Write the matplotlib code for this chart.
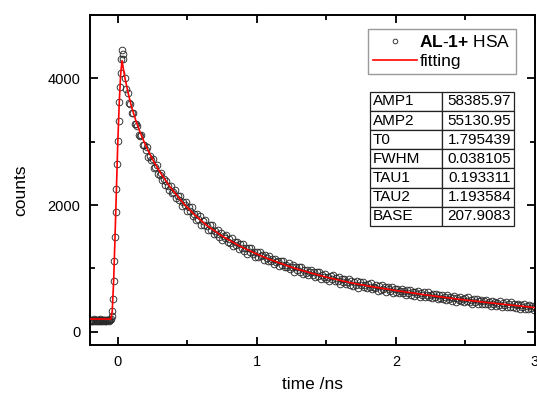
import numpy as np
import matplotlib
matplotlib.use("Agg")
import matplotlib.pyplot as plt
from matplotlib.ticker import MultipleLocator

plt.rcParams['font.family'] = ['Liberation Sans', 'DejaVu Sans']
plt.rcParams['mathtext.fontset'] = 'custom'
plt.rcParams['mathtext.rm'] = 'Liberation Sans'
plt.rcParams['mathtext.bf'] = 'Liberation Sans:bold'

t_base = np.round(np.arange(-0.200, -0.0599, 0.005), 3)
c_base = [185, 172, 190, 168, 181, 176, 193, 170, 184, 178, 166, 188, 175, 181, 172,
          195, 163, 179, 187, 169, 182, 174, 191, 167, 180, 177, 186, 171, 183]

t_rise = [-0.055, -0.050, -0.045, -0.040, -0.035, -0.030, -0.025, -0.020, -0.015,
          -0.010, -0.005, 0.000, 0.005, 0.010, 0.015, 0.020, 0.025, 0.030, 0.035]
c_rise = [180, 195, 240, 330, 520, 800, 1120, 1500, 1890,
          2260, 2640, 3010, 3330, 3620, 3860, 4080, 4300, 4440, 4390]

t_tail = np.round(np.arange(0.04, 3.0001, 0.01), 2)
c_tail = [
    # 0.04 - 0.40
    4300, 4000, 3826, 3772, 3606, 3598, 3460, 3460, 3280, 3280,
    3250, 3110, 3090, 3107, 2955, 2952, 2870, 2916, 2752, 2778,
    2704, 2720, 2592, 2604, 2636, 2488, 2480, 2507, 2395, 2412,
    2310, 2387, 2295, 2243, 2304, 2197, 2200,
    # 0.41 - 1.00
    2233, 2106, 2149, 2082, 2135, 1987, 2052, 1998, 2045, 1913,
    1970, 1898, 1965, 1833, 1862, 1771, 1851, 1772, 1823, 1684,
    1754, 1685, 1756, 1667, 1611, 1686, 1601, 1686, 1541, 1596,
    1550, 1605, 1500, 1555, 1441, 1517, 1474, 1532, 1409, 1457,
    1404, 1472, 1349, 1417, 1364, 1412, 1310, 1378, 1327, 1387,
    1277, 1317, 1226, 1326, 1256, 1316, 1225, 1265, 1185, 1255,
    # 1.01 - 2.00
    1186, 1252, 1188, 1209, 1125, 1206, 1162, 1113, 1194, 1115,
    1142, 1074, 1151, 1098, 1120, 1037, 1109, 1056, 1118, 1020,
    1058, 1016, 1078, 986, 1024, 1046, 949, 1017, 980, 1022,
    945, 1019, 918, 972, 931, 975, 889, 938, 972, 896,
    935, 869, 938, 886, 940, 829, 903, 857, 906, 830,
    865, 805, 875, 835, 890, 795, 840, 800, 860, 760,
    825, 790, 830, 750, 790, 830, 745, 796, 722, 778,
    744, 795, 696, 777, 738, 783, 709, 740, 686, 757,
    698, 764, 675, 711, 693, 739, 646, 717, 659, 730,
    667, 698, 630, 706, 668, 639, 711, 617, 669, 630,
    # 2.01 - 3.00
    667, 609, 645, 677, 609, 641, 582, 654, 611, 663,
    584, 626, 568, 630, 596, 638, 550, 612, 573, 620,
    547, 584, 621, 548, 585, 527, 595, 552, 599, 511,
    573, 530, 582, 514, 551, 498, 580, 517, 555, 492,
    529, 556, 473, 535, 502, 550, 477, 520, 462, 530,
    492, 540, 467, 500, 442, 510, 467, 520, 442, 480,
    502, 430, 487, 445, 507, 430, 467, 410, 487, 440,
    472, 410, 458, 416, 478, 391, 453, 426, 464, 397,
    434, 382, 464, 397, 440, 378, 415, 438, 360, 423,
    386, 439, 366, 404, 351, 424, 367, 410, 347, 395,
]

# --- fitted curve ---
t_fit = [-0.20, -0.05, -0.04, -0.03, -0.02, -0.01, 0.00, 0.01, 0.02, 0.03,
         0.05, 0.075, 0.10, 0.13, 0.16, 0.20, 0.25, 0.30, 0.374, 0.47,
         0.55, 0.638, 0.75, 0.878, 1.0, 1.1, 1.2, 1.31, 1.5, 1.67,
         1.83, 2.0, 2.2, 2.44, 2.7, 3.0]
c_fit = [200, 200, 330, 800, 1500, 2250, 3000, 3600, 4050, 4280,
         4020, 3760, 3540, 3330, 3150, 2940, 2720, 2530, 2290, 2030,
         1850, 1680, 1510, 1350, 1225, 1135, 1055, 975, 860, 775,
         710, 650, 585, 515, 450, 380]

# --- fit parameters ---
par_names = ['AMP1', 'AMP2', 'T0', 'FWHM', 'TAU1', 'TAU2', 'BASE']
par_values = ['58385.97', '55130.95', '1.795439', '0.038105', '0.193311', '1.193584', '207.9083']

t_data = list(t_base) + list(t_rise) + list(t_tail)
c_data = c_base + c_rise + c_tail

fig = plt.figure(figsize=(5.37, 3.96), dpi=100)
ax = fig.add_axes([0.1676, 0.1288, 0.8287, 0.8333])

ax.plot(t_data, c_data, linestyle='none', marker='o', markersize=4.8,
        markerfacecolor='none', markeredgecolor='#2a2a2a', markeredgewidth=0.65,
        label=r'$\mathbf{AL}$-$\mathbf{1{+}}$ HSA', zorder=2)
ax.plot(t_fit, c_fit, color='#ff0000', linewidth=1.2, label='fitting', zorder=3)

ax.set_xlim(-0.2, 3.0)
ax.set_ylim(-210, 5000)
ax.xaxis.set_major_locator(MultipleLocator(1))
ax.xaxis.set_minor_locator(MultipleLocator(0.5))
ax.yaxis.set_major_locator(MultipleLocator(2000))
ax.yaxis.set_minor_locator(MultipleLocator(1000))
ax.tick_params(which='both', direction='in', top=True, right=True, width=1.3,
               labelsize=10.5, pad=7)
ax.tick_params(which='major', length=6)
ax.tick_params(which='minor', length=3.8)
for s in ax.spines.values():
    s.set_linewidth(1.4)

ax.set_xlabel('time /ns', fontsize=12.5, labelpad=6)
ax.set_ylabel('counts', fontsize=12.5)
ax.yaxis.set_label_coords(-0.138, 0.47)

leg = ax.legend(loc='upper right', bbox_to_anchor=(0.957, 0.958), borderaxespad=0,
                fontsize=12.5, numpoints=1, markerscale=0.7, handlelength=2.5,
                handletextpad=0.15, borderpad=0.3, labelspacing=0.2,
                fancybox=False, framealpha=1)
leg.get_frame().set_edgecolor('#999999')
leg.get_frame().set_linewidth(1.0)

tab = ax.table(cellText=[[n, v] for n, v in zip(par_names, par_values)],
               cellLoc='left', bbox=[0.629, 0.361, 0.324, 0.406], zorder=5)
tab.auto_set_font_size(False)
tab.set_fontsize(11)
for (r, c), cell in tab.get_celld().items():
    cell.set_edgecolor('#222222')
    cell.set_linewidth(0.9)
    cell.PAD = 0.04
    if c == 1:
        cell.get_text().set_horizontalalignment('right')

fig.savefig('out.png', dpi=100)
